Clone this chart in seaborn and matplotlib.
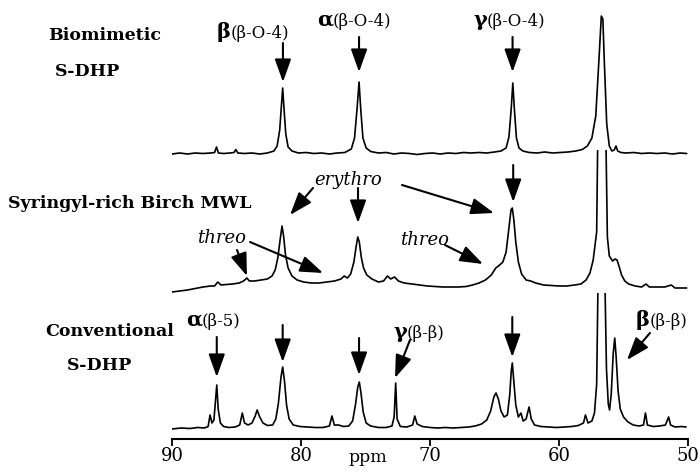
import numpy as np
import pandas as pd
import matplotlib
matplotlib.use("Agg")
import matplotlib.pyplot as plt
import seaborn as sns
from matplotlib.patches import Rectangle

sns.set_theme(style="white")
plt.rcParams['font.family'] = ['DejaVu Serif']
plt.rcParams['text.color'] = 'black'
plt.rcParams['xtick.color'] = 'black'
plt.rcParams['axes.labelcolor'] = 'black'

# ---------------- data (chemical shift in ppm, relative intensity) ----------------
top_ppm = [90.0, 89.4, 88.8, 88.2, 87.6, 87.0, 86.7, 86.55, 86.4, 86.0, 85.5, 85.2, 85.05, 84.9,
           84.4, 83.8, 83.2, 82.6, 82.1, 81.85, 81.65, 81.52, 81.42, 81.32, 81.18, 81.0, 80.7, 80.2,
           79.6, 79.0, 78.4, 77.8, 77.2, 76.6, 76.1, 75.85, 75.65, 75.5, 75.37, 75.2, 74.95, 74.6,
           74.0, 73.4, 72.8, 72.2, 71.6, 71.0, 70.4, 69.8, 69.2, 68.6, 68.0, 67.4, 66.8, 66.2, 65.6,
           65.0, 64.5, 64.1, 63.88, 63.7, 63.58, 63.46, 63.3, 63.1, 62.8, 62.3, 61.7, 61.1, 60.5,
           59.9, 59.3, 58.7, 58.2, 57.8, 57.45, 57.15, 56.9, 56.72, 56.6, 56.48, 56.3, 56.1, 55.9,
           55.72, 55.58, 55.45, 55.2, 54.8, 54.2, 53.6, 53.0, 52.4, 51.8, 51.2, 50.6, 50.1]
top_int = [0, 1, 0, 1, 0.5, 1, 1.5, 7, 1, 0.5, 1, 1.5, 4.5, 1,
           0.5, 1, 0, 1, 3, 8, 24, 48, 66, 46, 20, 7, 3, 1,
           1.5, 0.5, 1, 0, 1, 1.5, 5, 16, 46, 72, 45, 16, 6, 2.5,
           1, 1.5, 0, 1, 0.5, -0.5, 0.5, 1, 0, 1, 0.5, 1.5, 1, 1.5, 1,
           2, 3, 6, 17, 46, 71, 45, 16, 6, 3, 1.5, 1, 2, 1,
           1.5, 2, 3, 4.5, 8, 16, 38, 95, 138, 135, 90, 30, 8, 3,
           4, 8, 3, 1.5, 1, 1.5, 0.5, 1, 0.5, 1, 0, 1, 0.5]

mid_ppm = [90.0, 89.4, 88.8, 88.2, 87.6, 87.0, 86.7, 86.45, 86.2, 85.8, 85.3, 84.8, 84.45, 84.2,
           84.0, 83.6, 83.1, 82.6, 82.25, 82.0, 81.8, 81.62, 81.47, 81.35, 81.2, 81.0, 80.7, 80.3,
           79.8, 79.2, 78.6, 78.0, 77.4, 76.9, 76.65, 76.4, 76.15, 75.9, 75.72, 75.6, 75.48, 75.33,
           75.15, 74.9, 74.5, 74.0, 73.6, 73.3, 73.05, 72.75, 72.45, 72.0, 71.4, 70.8, 70.2, 69.6,
           69.0, 68.4, 67.8, 67.2, 66.7, 66.2, 65.7, 65.25, 64.9, 64.6, 64.35, 64.1, 63.9, 63.72,
           63.62, 63.5, 63.35, 63.15, 62.9, 62.55, 62.2, 61.8, 61.2, 60.6, 60.0, 59.4, 58.8, 58.3,
           57.9, 57.6, 57.35, 57.08, 57.0, 56.9, 56.45, 56.36, 56.25, 56.1, 55.85, 55.65, 55.5, 55.35,
           55.15, 54.9, 54.6, 54.1, 53.6, 53.25, 53.0, 52.4, 51.8, 51.3, 51.0, 50.5, 50.1]
mid_int = [0, 1, 2, 3.5, 5, 6, 6, 10, 7, 7.5, 8, 9, 11, 14,
           11, 11, 12, 13, 16, 22, 34, 52, 66, 56, 37, 24, 16, 12,
           10, 9, 9, 10, 11, 13, 16, 14, 18, 30, 46, 55, 50, 35,
           24, 17, 13, 10, 11, 16, 13, 15, 11, 9, 8, 7, 6, 5.5,
           5, 5, 5, 5.5, 7, 9, 12, 17, 24, 27, 30, 40, 62, 82,
           84, 72, 50, 30, 18, 12, 11, 9, 7, 6.5, 6, 6, 7, 8,
           12, 19, 32, 60, 150, 230, 230, 150, 55, 36, 31, 33, 32, 26,
           17, 11, 8, 6, 5, 8, 5, 5, 5, 7, 4, 4, 4]

bot_ppm = [90.0, 89.3, 88.6, 88.0, 87.5, 87.2, 87.05, 86.9, 86.75, 86.62, 86.53, 86.42, 86.25, 86.0,
           85.6, 85.1, 84.75, 84.55, 84.38, 84.1, 83.8, 83.55, 83.4, 83.2, 82.95, 82.6, 82.2, 81.95,
           81.75, 81.55, 81.42, 81.28, 81.12, 80.92, 80.6, 80.1, 79.5, 78.9, 78.3, 77.8, 77.6, 77.42,
           77.1, 76.7, 76.3, 76.0, 75.78, 75.6, 75.48, 75.35, 75.18, 74.95, 74.6, 74.0, 73.4, 72.95,
           72.78, 72.66, 72.55, 72.3, 71.8, 71.35, 71.18, 71.0, 70.6, 70.0, 69.4, 68.8, 68.2, 67.6,
           67.0, 66.5, 66.0, 65.6, 65.3, 65.05, 64.88, 64.7, 64.5, 64.25, 64.0, 63.82, 63.7, 63.62,
           63.52, 63.35, 63.15, 62.95, 62.78, 62.55, 62.32, 62.15, 61.9, 61.4, 60.8, 60.2, 59.6, 59.0,
           58.5, 58.1, 57.95, 57.75, 57.45, 57.25, 57.08, 56.98, 56.9, 56.5, 56.43, 56.32, 56.18, 56.08,
           55.95, 55.8, 55.68, 55.57, 55.42, 55.25, 55.0, 54.65, 54.25, 53.8, 53.45, 53.3, 53.15, 52.7,
           52.2, 51.75, 51.5, 51.35, 51.0, 50.5, 50.15]
bot_int = [0, 1, 0.5, 1.5, 1, 2.5, 14, 6, 9, 30, 44, 20, 6, 2.5,
           1.5, 2, 4, 16, 6, 4, 6, 13, 19, 12, 6, 3.5, 4, 10,
           26, 52, 62, 48, 24, 10, 4, 2.5, 2, 1.5, 1.5, 3, 13, 4,
           4, 2.5, 3, 8, 24, 42, 47, 36, 17, 6, 3, 1.5, 1.5, 3,
           12, 46, 10, 2.5, 2, 4, 13, 5, 2.5, 1.5, 1, 1.5, 1, 1.5,
           2, 3, 5, 9, 18, 32, 36, 30, 18, 12, 14, 34, 58, 66,
           50, 24, 12, 16, 8, 10, 22, 10, 4, 2.5, 2, 1.5, 2, 2.5,
           3.5, 6, 14, 6, 8, 16, 45, 140, 220, 220, 140, 60, 25, 19,
           35, 75, 91, 72, 38, 20, 12, 7, 4, 3, 4, 16, 4, 2.5,
           3, 4, 12, 4, 2, 2.5, 2]

x_ticks = [90, 80, 70, 60, 50]

assert len(top_ppm) == len(top_int)
assert len(mid_ppm) == len(mid_int)
assert len(bot_ppm) == len(bot_int)

# ---------------- layout ----------------
W, H = 700, 476
AX_L, AX_R, AX_B = 172, 688, 439
fig = plt.figure(figsize=(W / 100, H / 100), dpi=100)
ax = fig.add_axes([AX_L / W, (H - AX_B) / H, (AX_R - AX_L) / W, AX_B / H])
ax.set_xlim(90, 50)
ax.set_ylim(0, AX_B)

traces = [(top_ppm, top_int, 285, None),
          (mid_ppm, mid_int, 147, 142),
          (bot_ppm, bot_int, 10, 136)]
for ppm, inten, off, clip in traces:
    df = pd.DataFrame({"ppm": ppm, "y": np.asarray(inten, dtype=float) + off})
    sns.lineplot(data=df, x="ppm", y="y", ax=ax, color="black", lw=1.2,
                 sort=False, estimator=None)
    if clip is not None:
        ax.lines[-1].set_clip_path(Rectangle((50, 0), 40, off + clip, transform=ax.transData))

ax.set_xlabel("")
ax.set_ylabel("")
ax.set_yticks([])
ax.set_xticks(x_ticks)
ax.set_xticklabels([str(t) for t in x_ticks])
for s in ["left", "right", "top"]:
    ax.spines[s].set_visible(False)
ax.spines["bottom"].set_color("black")
ax.spines["bottom"].set_linewidth(1.5)
ax.tick_params(axis="x", direction="out", length=5, width=1.3, pad=1,
               labelsize=13, colors="black", labelcolor="black", bottom=True)
fig.text(368 / W, 1 - 458 / H, "ppm", ha="center", va="center", fontsize=12.5, color="black")

# sample labels (bold)
def ftext(x, y, s, **kw):
    fig.text(x / W, 1 - y / H, s, color="black", **kw)

ftext(48, 35, "Biomimetic", ha="left", va="center", fontsize=12.5, fontweight="bold")
ftext(55, 72, "S-DHP", ha="left", va="center", fontsize=12.5, fontweight="bold")
ftext(8, 203, "Syringyl-rich Birch MWL", ha="left", va="center", fontsize=12.5, fontweight="bold")
ftext(45, 332, "Conventional", ha="left", va="center", fontsize=12.5, fontweight="bold")
ftext(67, 365, "S-DHP", ha="left", va="center", fontsize=12.5, fontweight="bold")

# peak assignment labels
def plabel(x, y, greek, rest):
    ax.text(x, y, greek, ha="right", va="baseline", fontsize=15, fontweight="bold", color="black")
    ax.text(x, y, rest, ha="left", va="baseline", fontsize=12, color="black")

plabel(85.43, 401, "β", "(β-O-4)")
plabel(77.52, 413, "α", "(β-O-4)")
plabel(65.58, 413, "γ", "(β-O-4)")
plabel(87.67, 113, "α", "(β-5)")
plabel(71.78, 101, "γ", "(β-β)")
plabel(52.95, 113, "β", "(β-β)")

def arrow(x0, y0, x1, y1):
    ax.annotate("", xy=(x1, y1), xytext=(x0, y0), annotation_clip=False,
                arrowprops=dict(arrowstyle="-|>,head_length=1.4,head_width=0.5",
                                mutation_scale=10, lw=1.5, color="black",
                                shrinkA=0, shrinkB=0))

def itext(x, y, s):
    ax.text(x, y, s, ha="center", va="center", fontsize=13, style="italic", color="black")

# top trace arrows
arrow(81.4, 396, 81.4, 357)
arrow(75.5, 402, 75.5, 367)
arrow(63.6, 402, 63.6, 367)
# middle trace
itext(76.36, 259, "erythro")
arrow(79.07, 251, 80.85, 224)
arrow(75.58, 251, 75.58, 216)
arrow(72.17, 254, 65.04, 226)
arrow(63.55, 274, 63.55, 237)
itext(86.2, 201, "threo")
arrow(84.96, 189, 84.19, 163)
arrow(83.95, 197, 78.29, 166)
itext(70.39, 199, "threo")
arrow(68.84, 194, 65.89, 175)
# bottom trace
arrow(86.53, 102, 86.53, 62)
arrow(81.42, 114, 81.42, 77)
arrow(75.5, 101, 75.5, 64)
arrow(71.55, 99, 72.71, 61)
arrow(63.62, 122, 63.62, 82)
arrow(52.95, 106, 54.73, 79)

fig.savefig("out.png", dpi=100)
